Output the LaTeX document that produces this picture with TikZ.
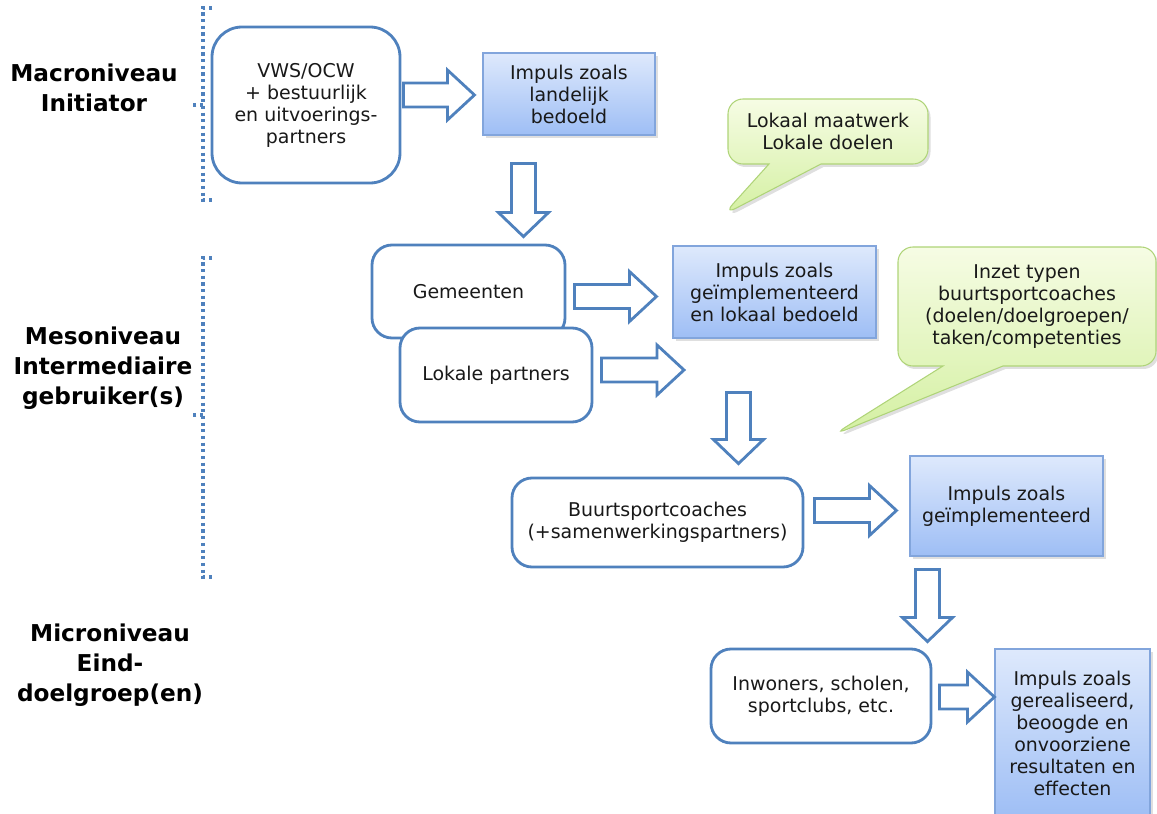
\documentclass[tikz,border=0pt]{standalone}
\usepackage{fontspec}
\setmainfont{DejaVu Sans}
\usetikzlibrary{shapes.callouts,shadows,calc}

\definecolor{lijnblauw}{RGB}{79,129,189}
\definecolor{randblauw}{RGB}{130,165,220}
\definecolor{blauwboven}{RGB}{222,233,252}
\definecolor{blauwonder}{RGB}{158,190,245}
\definecolor{randgroen}{RGB}{175,212,120}
\definecolor{groenboven}{RGB}{246,252,228}
\definecolor{groenonder}{RGB}{212,240,162}
\definecolor{tekst}{RGB}{25,25,25}

\tikzset{
  rondbox/.style={draw=lijnblauw, line width=1.6pt, rounded corners=4mm, fill=white,
    align=center, text=tekst, font=\fontsize{10.8}{12.5}\selectfont},
  impuls/.style={draw=randblauw, line width=0.6pt, top color=blauwboven, bottom color=blauwonder,
    drop shadow={opacity=.25, shadow xshift=.5mm, shadow yshift=-.6mm},
    align=center, text=tekst, font=\fontsize{10.8}{12.5}\selectfont},
  ballon/.style={rectangle callout, rounded corners=3mm, draw=randgroen, line width=0.6pt,
    top color=groenboven, bottom color=groenonder,
    drop shadow={opacity=.25, shadow xshift=.5mm, shadow yshift=-.6mm},
    align=center, text=tekst, font=\fontsize{10.8}{12.5}\selectfont},
  niveau/.style={align=center, text=black, font=\bfseries\fontsize{13.2}{17}\selectfont},
  haak/.style={draw=lijnblauw, dotted, line width=1.8pt},
  pijlrechts/.style={draw=lijnblauw, line width=1.6pt, fill=white, line join=miter,
    to path={($(\tikztostart)+(0,12)$) -- ($(\tikztotarget)+(-27,12)$) -- ($(\tikztotarget)+(-27,25)$)
      -- (\tikztotarget) -- ($(\tikztotarget)+(-27,-25)$) -- ($(\tikztotarget)+(-27,-12)$)
      -- ($(\tikztostart)+(0,-12)$) -- cycle}},
  pijlomlaag/.style={draw=lijnblauw, line width=1.6pt, fill=white, line join=miter,
    to path={($(\tikztostart)+(-12,0)$) -- ($(\tikztotarget)+(-12,-24)$) -- ($(\tikztotarget)+(-25,-24)$)
      -- (\tikztotarget) -- ($(\tikztotarget)+(25,-24)$) -- ($(\tikztotarget)+(12,-24)$)
      -- ($(\tikztostart)+(12,0)$) -- cycle}}
}

\begin{document}
\begin{tikzpicture}[x=0.2mm, y=-0.2mm]
\useasboundingbox (0,0) rectangle (1157,814);

% niveaus links
\node[niveau] (macro) at (94,88) {Macroniveau\\Initiator};
\node[niveau] (meso) at (103,368) {Mesoniveau\\Intermediaire\\gebruiker(s)};
\node[niveau] (micro) at (110,665) {Microniveau\\Eind-\\doelgroep(en)};

\draw[haak] (212,8) -- (203,8) -- (203,200) -- (212,200);
\draw[haak] (203,105) -- (191,105);
\draw[haak] (212,258) -- (203,258) -- (203,577) -- (212,577);
\draw[haak] (203,415) -- (191,415);

% macro
\node[rondbox, rounded corners=6mm, minimum width=37.6mm, minimum height=31.2mm] (vws) at (306,105)
  {VWS/OCW\\+ bestuurlijk\\en uitvoerings-\\partners};
\node[impuls, minimum width=34.4mm, minimum height=16.4mm] (land) at (569,94)
  {Impuls zoals\\landelijk\\bedoeld};
\node[ballon, minimum width=40mm, minimum height=13mm, callout pointer width=10.4mm,
  callout absolute pointer={(723,215)}] (maatwerk)
  at (828,131.5) {Lokaal maatwerk\\Lokale doelen};

% meso
\node[rondbox, minimum width=38.6mm, minimum height=18.6mm] (gem) at (468.5,291.5) {Gemeenten};
\node[rondbox, minimum width=38.4mm, minimum height=18.8mm] (lok) at (496,375) {Lokale partners};
\node[impuls, minimum width=40.6mm, minimum height=18.4mm] (lokaal) at (774.5,292)
  {Impuls zoals\\geïmplementeerd\\en lokaal bedoeld};
\node[ballon, minimum width=51.6mm, minimum height=23.8mm, callout pointer width=12mm,
  callout absolute pointer={(833,435)}] (typen)
  at (1027,306.5) {Inzet typen\\buurtsportcoaches\\(doelen/doelgroepen/\\taken/competenties};
\node[rondbox, minimum width=58.2mm, minimum height=17.8mm] (buurt) at (657.5,522.5)
  {Buurtsportcoaches\\(+samenwerkingspartners)};
\node[impuls, minimum width=38.6mm, minimum height=20mm] (geimpl) at (1006.5,506)
  {Impuls zoals\\geïmplementeerd};

% micro
\node[rondbox, minimum width=44mm, minimum height=18.8mm] (inw) at (821,696)
  {Inwoners, scholen,\\sportclubs, etc.};
\node[impuls, minimum width=31mm, minimum height=33.8mm] (eind) at (1072.5,733.5)
  {Impuls zoals\\gerealiseerd,\\beoogde en\\onvoorziene\\resultaten en\\effecten};

% pijlen
\coordinate (lokpunt) at (684,370);
\coordinate (neer1) at ($(land.south west)+(41,28)$);
\coordinate (neer2) at ($(lokaal.south west)+(66,54)$);
\coordinate (neer3) at ($(geimpl.south west)+(18,13)$);
\coordinate (buurtpijl) at ($(buurt.east)+(10,-12)$);

\draw[pijlrechts] ($(vws.east |- land.west)+(2,1)$) to ($(land.west)+(-8,1)$);
\draw[pijlomlaag] (neer1) to ($(neer1 |- gem.north)+(0,-7)$);
\draw[pijlrechts] ($(gem.east)+(8,5)$) to ($(lokaal.west |- gem.east)+(-16,5)$);
\draw[pijlrechts] ($(lok.east |- lokpunt)+(8,0)$) to (lokpunt);
\draw[pijlomlaag] (neer2) to ($(neer2 |- buurt.north)+(0,-13)$);
\draw[pijlrechts] (buurtpijl) to ($(geimpl.west |- buurtpijl)+(-13,0)$);
\draw[pijlomlaag] (neer3) to ($(neer3 |- inw.north)+(0,-6)$);
\draw[pijlrechts] ($(inw.east)+(7,1)$) to ($(eind.west |- inw.east)+(0,1)$);
\end{tikzpicture}
\end{document}
